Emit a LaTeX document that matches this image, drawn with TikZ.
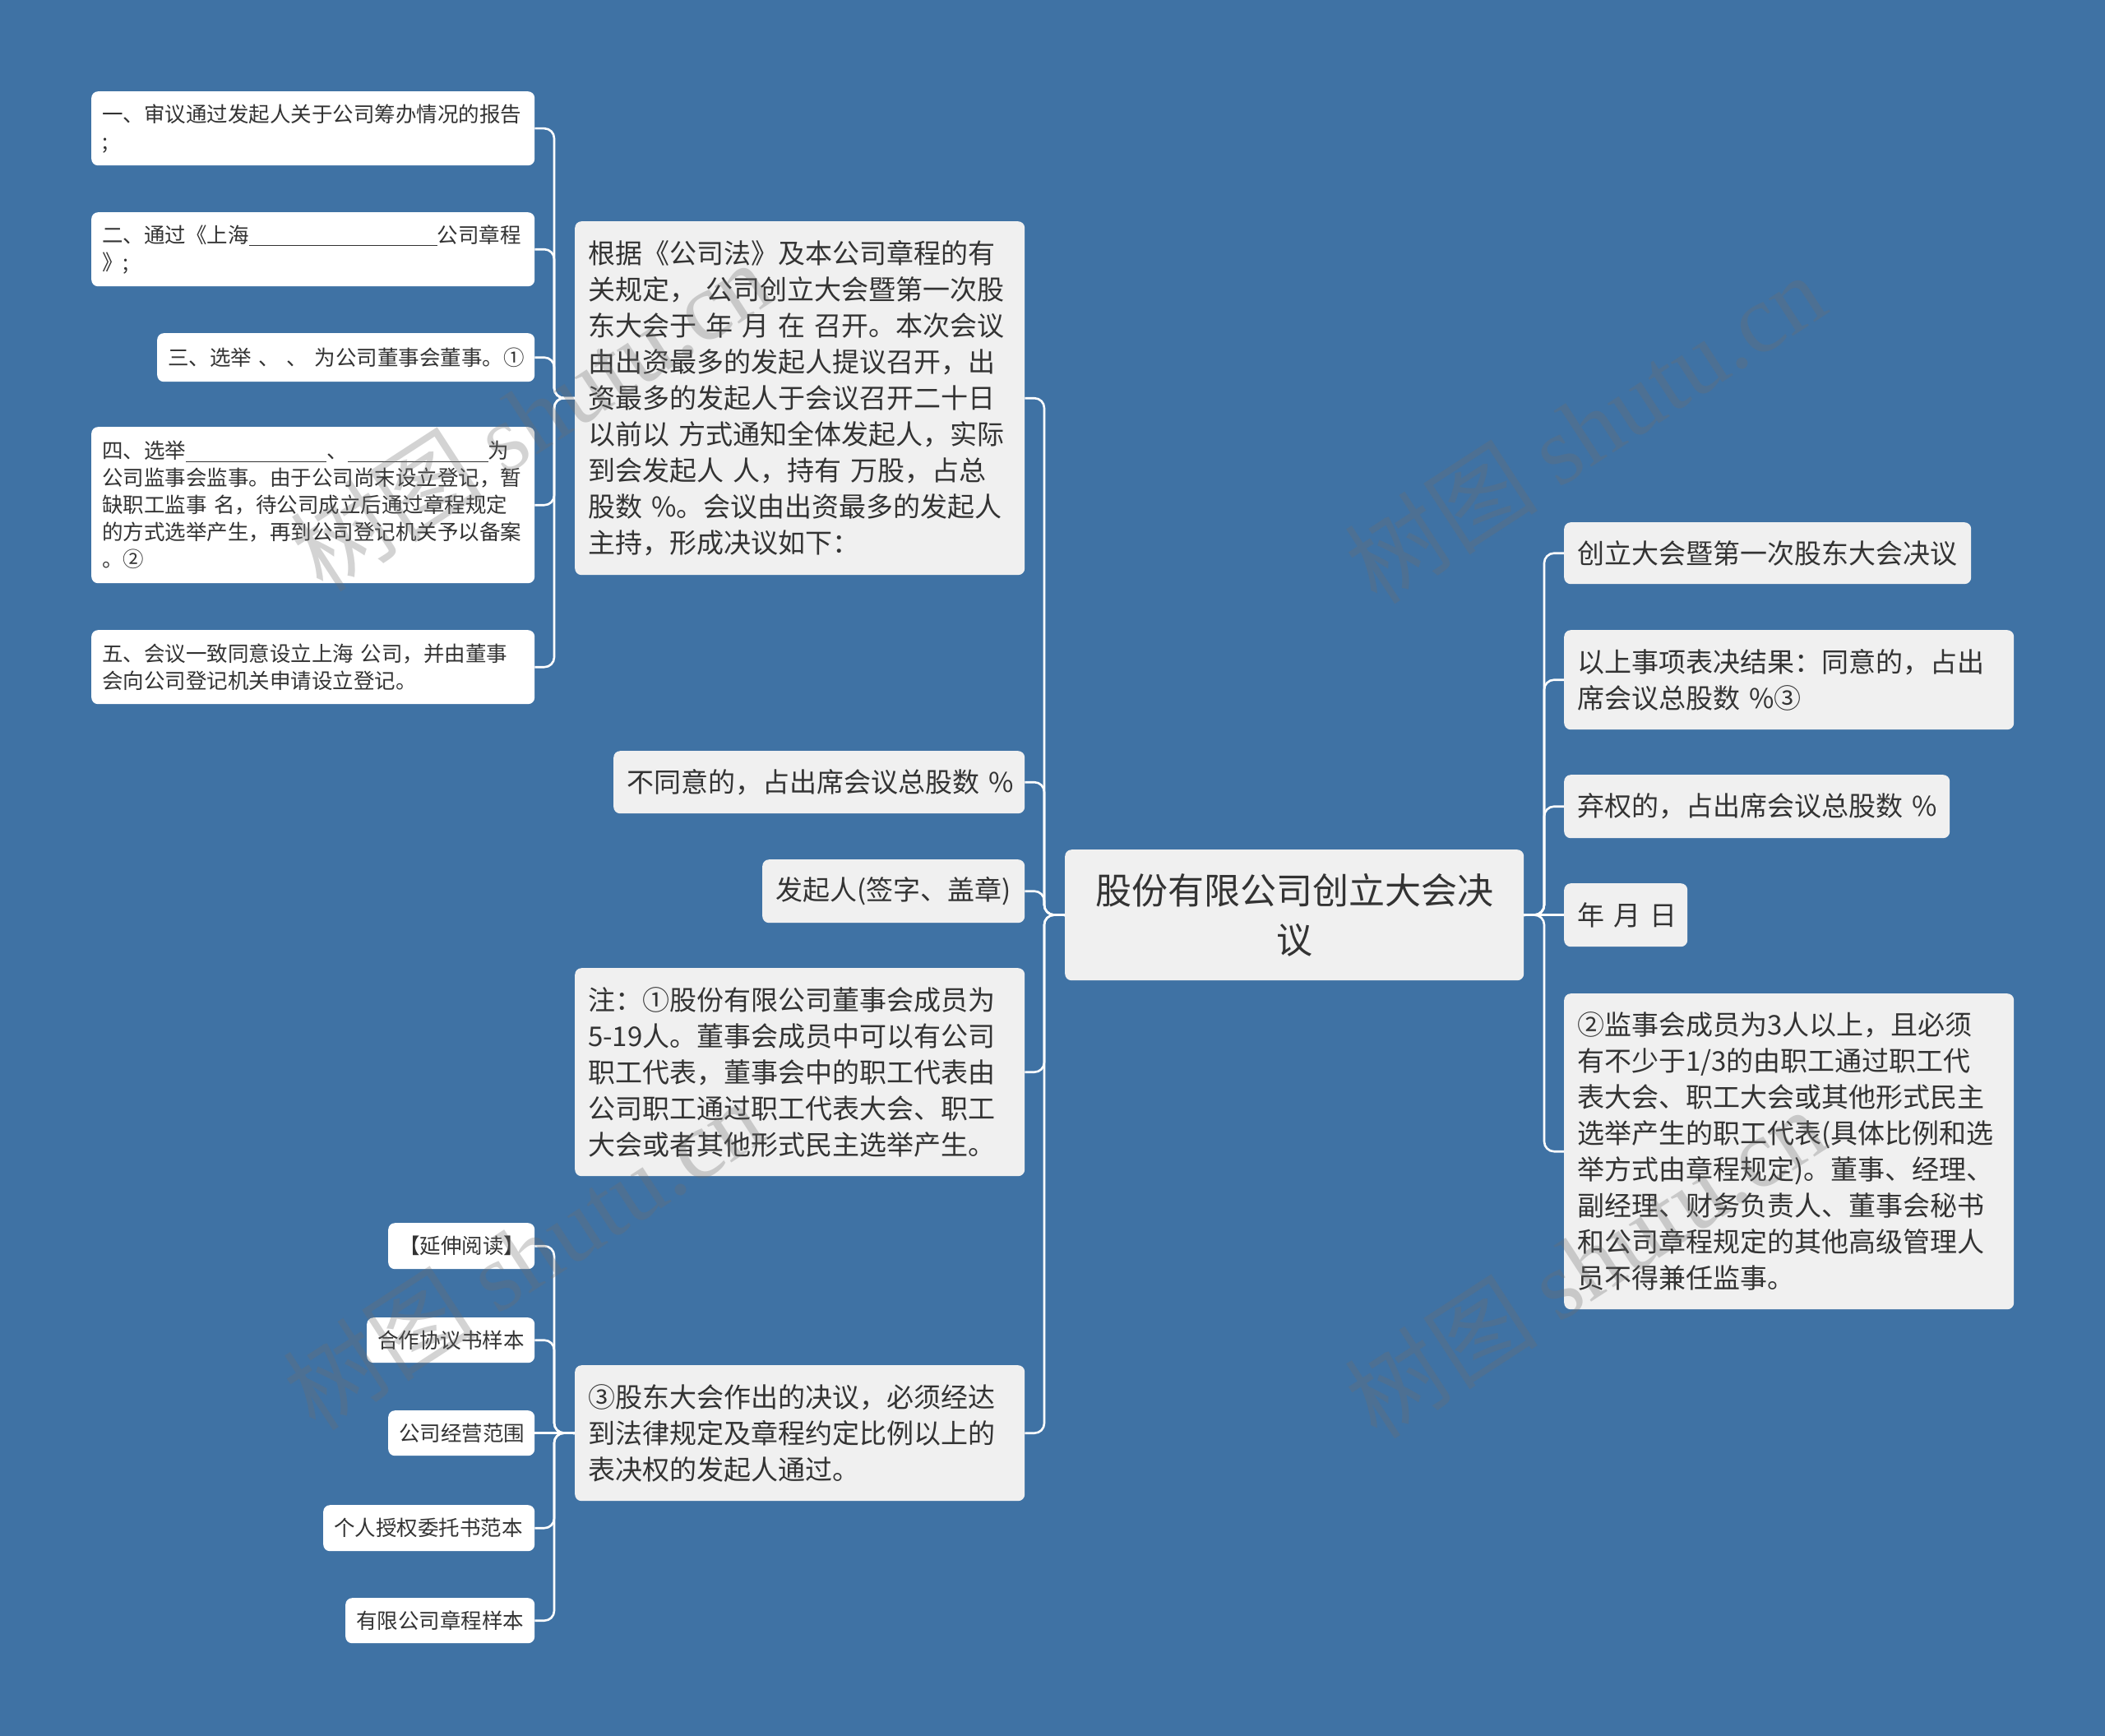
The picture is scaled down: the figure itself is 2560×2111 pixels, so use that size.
\documentclass[tikz,border=0pt]{standalone}
\usepackage{fontspec}
\setmainfont{Noto Sans CJK SC}
\newfontfamily\wmlatin{Liberation Serif}
\newfontfamily\wmcjk{Noto Sans CJK SC}
\definecolor{bgblue}{HTML}{3F72A4}
\definecolor{boxgray}{HTML}{F0F0F0}
\definecolor{txt}{HTML}{333333}
\definecolor{wmgray}{HTML}{6E6E6E}
\newcommand{\myfbig}{\fontsize{44}{60}\selectfont}
\newcommand{\myfmid}{\fontsize{33}{44}\selectfont}
\newcommand{\myfsmall}{\fontsize{25.5}{33}\selectfont}
\newcommand{\blank}[1]{\rule[-4pt]{#1}{1.2pt}}
\tikzset{
  basebox/.style={rounded corners=8pt, anchor=north west, inner xsep=0pt, inner ysep=0pt, text=txt},
  mainbox/.style={basebox, fill=boxgray, align=left, font=\myfmid},
  leafbox/.style={basebox, fill=white, align=left, font=\myfsmall},
  centerbox/.style={basebox, fill=boxgray, align=center, font=\myfbig},
  conn/.style={draw=white, line width=2.6pt, rounded corners=12pt},
  wmark/.style={text=wmgray, opacity=0.3, rotate=33, font=\fontsize{118}{118}\selectfont}
}
\begin{document}
\begin{tikzpicture}[x=1pt,y=-1pt]
\fill[bgblue] (0,0) rectangle (2560,2111);
\useasboundingbox (0,0) rectangle (2560,2111);

% center
\node[centerbox, minimum width=558pt, minimum height=159pt, text width=520pt] (c) at (1295,1033) {股份有限公司创立大会决\\议};

% right nodes
\node[mainbox, minimum width=495pt, minimum height=75pt, text width=463pt] (r1) at (1902,635) {创立大会暨第一次股东大会决议};
\node[mainbox, minimum width=547pt, minimum height=121pt, text width=515pt] (r2) at (1902,766) {以上事项表决结果：同意的，占出\\席会议总股数~\%③};
\node[mainbox, minimum width=469pt, minimum height=77pt, text width=437pt] (r3) at (1902,942) {弃权的，占出席会议总股数~\%};
\node[mainbox, minimum width=150pt, minimum height=77pt, text width=118pt] (r4) at (1902,1074) {年~月~日};
\node[mainbox, minimum width=547pt, minimum height=384pt, text width=515pt] (r5) at (1902,1208) {②监事会成员为3人以上，且必须\\有不少于1/3的由职工通过职工代\\表大会、职工大会或其他形式民主\\选举产生的职工代表(具体比例和选\\举方式由章程规定)。董事、经理、\\副经理、财务负责人、董事会秘书\\和公司章程规定的其他高级管理人\\员不得兼任监事。};

% left main nodes
\node[mainbox, minimum width=547pt, minimum height=430pt, text width=515pt] (l1) at (699,269) {根据《公司法》及本公司章程的有\\关规定，~公司创立大会暨第一次股\\东大会于~年~月~在~召开。本次会议\\由出资最多的发起人提议召开，出\\资最多的发起人于会议召开二十日\\以前以~方式通知全体发起人，实际\\到会发起人~人，持有~万股，占总\\股数~\%。会议由出资最多的发起人\\主持，形成决议如下：};
\node[mainbox, minimum width=500pt, minimum height=76pt, text width=468pt] (l2) at (746,913) {不同意的，占出席会议总股数~\%};
\node[mainbox, minimum width=319pt, minimum height=77pt, text width=287pt] (l3) at (927,1045) {发起人(签字、盖章)};
\node[mainbox, minimum width=547pt, minimum height=253pt, text width=515pt] (l4) at (699,1177) {注：①股份有限公司董事会成员为\\5-19人。董事会成员中可以有公司\\职工代表，董事会中的职工代表由\\公司职工通过职工代表大会、职工\\大会或者其他形式民主选举产生。};
\node[mainbox, minimum width=547pt, minimum height=165pt, text width=515pt] (l5) at (699,1660) {③股东大会作出的决议，必须经达\\到法律规定及章程约定比例以上的\\表决权的发起人通过。};

% leaves of l1
\node[leafbox, minimum width=539pt, minimum height=90pt, text width=513pt] (a1) at (111,111) {一、审议通过发起人关于公司筹办情况的报告\\;};
\node[leafbox, minimum width=539pt, minimum height=90pt, text width=513pt] (a2) at (111,258) {二、通过《上海\blank{229pt}公司章程\\》;};
\node[leafbox, minimum width=459pt, minimum height=59pt, text width=433pt] (a3) at (191,405) {三、选举~、~、~为公司董事会董事。①};
\node[leafbox, minimum width=539pt, minimum height=190pt, text width=513pt] (a4) at (111,519) {四、选举\blank{171pt}、\blank{171pt}为\\公司监事会监事。由于公司尚末设立登记，暂\\缺职工监事~名，待公司成立后通过章程规定\\的方式选举产生，再到公司登记机关予以备案\\。②};
\node[leafbox, minimum width=539pt, minimum height=90pt, text width=513pt] (a5) at (111,766) {五、会议一致同意设立上海~公司，并由董事\\会向公司登记机关申请设立登记。};

% leaves of l5
\node[leafbox, minimum width=178pt, minimum height=56pt, text width=152pt] (b1) at (472,1487) {【延伸阅读】};
\node[leafbox, minimum width=204pt, minimum height=55pt, text width=178pt] (b2) at (446,1602) {合作协议书样本};
\node[leafbox, minimum width=178pt, minimum height=55pt, text width=152pt] (b3) at (472,1715) {公司经营范围};
\node[leafbox, minimum width=257pt, minimum height=56pt, text width=231pt] (b4) at (393,1830) {个人授权委托书范本};
\node[leafbox, minimum width=230pt, minimum height=55pt, text width=204pt] (b5) at (420,1943) {有限公司章程样本};

% spine coordinates
\coordinate (rs) at (1878,1112.5);
\coordinate (ls) at (1270,1112.5);
\coordinate (s1) at (674,484);
\coordinate (s2) at (674,1742.5);

% right connectors
\draw[conn] (c.east) -- (rs) |- (r1.west);
\draw[conn] (c.east) -- (rs) |- (r2.west);
\draw[conn] (c.east) -- (rs) |- (r3.west);
\draw[conn] (c.east) -- (r4.west);
\draw[conn] (c.east) -- (rs) |- (r5.west);

% left connectors
\draw[conn] (c.west) -- (ls) |- (l1.east);
\draw[conn] (c.west) -- (ls) |- (l2.east);
\draw[conn] (c.west) -- (ls) |- (l3.east);
\draw[conn] (c.west) -- (ls) |- (l4.east);
\draw[conn] (c.west) -- (ls) |- (l5.east);

% l1 leaves
\draw[conn] (l1.west) -- (s1) |- (a1.east);
\draw[conn] (l1.west) -- (s1) |- (a2.east);
\draw[conn] (l1.west) -- (s1) |- (a3.east);
\draw[conn] (l1.west) -- (s1) |- (a4.east);
\draw[conn] (l1.west) -- (s1) |- (a5.east);

% l5 leaves
\draw[conn] (l5.west) -- (s2) |- (b1.east);
\draw[conn] (l5.west) -- (s2) |- (b2.east);
\draw[conn] (l5.west) -- (b3.east);
\draw[conn] (l5.west) -- (s2) |- (b4.east);
\draw[conn] (l5.west) -- (s2) |- (b5.east);

% watermarks
\node[wmark] (w1) at (645,505) {{\wmcjk 树图}~{\wmlatin shutu.cn}};
\node[wmark] (w2) at (1927,520) {{\wmcjk 树图}~{\wmlatin shutu.cn}};
\node[wmark] (w3) at (636,1525) {{\wmcjk 树图}~{\wmlatin shutu.cn}};
\node[wmark] (w4) at (1927,1535) {{\wmcjk 树图}~{\wmlatin shutu.cn}};
\end{tikzpicture}
\end{document}
